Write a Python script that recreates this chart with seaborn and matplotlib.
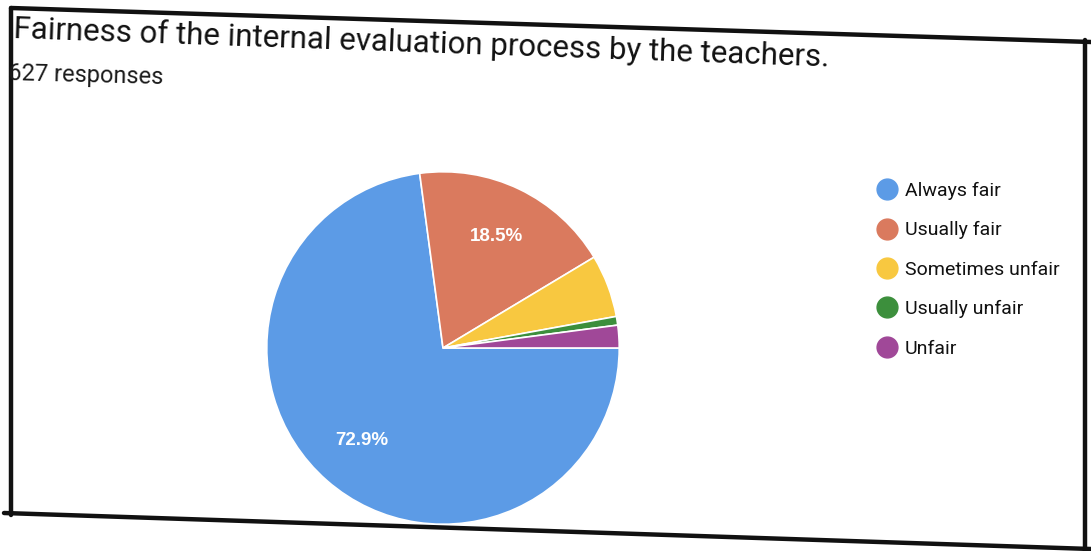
import matplotlib
matplotlib.use("Agg")
import matplotlib.pyplot as plt
from matplotlib.lines import Line2D
import seaborn as sns

title = "Fairness of the internal evaluation process by the teachers."
subtitle = "627 responses"
categories = ["Always fair", "Usually fair", "Sometimes unfair", "Usually unfair", "Unfair"]
counts = [457, 116, 36, 5, 13]
colors = ["#5c9be6", "#da7a5e", "#f8c840", "#3c8f3c", "#a04898"]

sns.set_theme(style="white")
plt.rcParams["font.family"] = ["Roboto", "DejaVu Sans"]

fig = plt.figure(figsize=(10.91, 5.51), dpi=100)
W, H = 1091, 551

def px(x, y):
    return x / W, 1 - y / H

# photo frame of the card
frame = [((11, 8), (11, 515)), ((11, 8), (1091, 42)),
         ((1085, 40), (1085, 551)), ((4, 513), (1091, 549))]
for (a, b) in frame:
    (x0, y0), (x1, y1) = px(*a), px(*b)
    fig.add_artist(Line2D([x0, x1], [y0, y1], color="#111111", lw=3.2,
                          transform=fig.transFigure))

fig.text(*px(13, 38), title, fontsize=22.5, color="#111111",
         rotation=-2.0, rotation_mode="anchor", ha="left", va="baseline")
fig.text(*px(8, 80), subtitle, fontsize=17, color="#1a1a1a",
         rotation=-1.5, rotation_mode="anchor", ha="left", va="baseline")

# pie
cx, cy, r = 443, 348, 178
ax = fig.add_axes([(cx - r) / W, 1 - (cy + r) / H, 2 * r / W, 2 * r / H])
wedges, texts, autotexts = ax.pie(
    counts, colors=colors, startangle=0, counterclock=False,
    autopct=lambda p: f"{p:.1f}%" if p > 10 else "", pctdistance=0.7,
    wedgeprops=dict(edgecolor="white", linewidth=1.2),
    textprops=dict(color="white", fontsize=13.5, fontweight="bold",
                   fontfamily="Liberation Sans"))
ax.set_aspect("equal")
ax.set_xlim(-1.01, 1.01)
ax.set_ylim(-1.01, 1.01)
ax.axis("off")

# legend
handles = [Line2D([0], [0], marker="o", linestyle="", markersize=15,
                  markerfacecolor=c, markeredgecolor=c) for c in colors]
leg = fig.legend(handles, categories, loc="upper left",
                 bbox_to_anchor=px(868, 174), frameon=False,
                 fontsize=14, labelspacing=1.1, handletextpad=0.3,
                 handlelength=1.2, borderaxespad=0)
for t in leg.get_texts():
    t.set_color("#111111")

fig.savefig("out.png", dpi=100, facecolor="white")
